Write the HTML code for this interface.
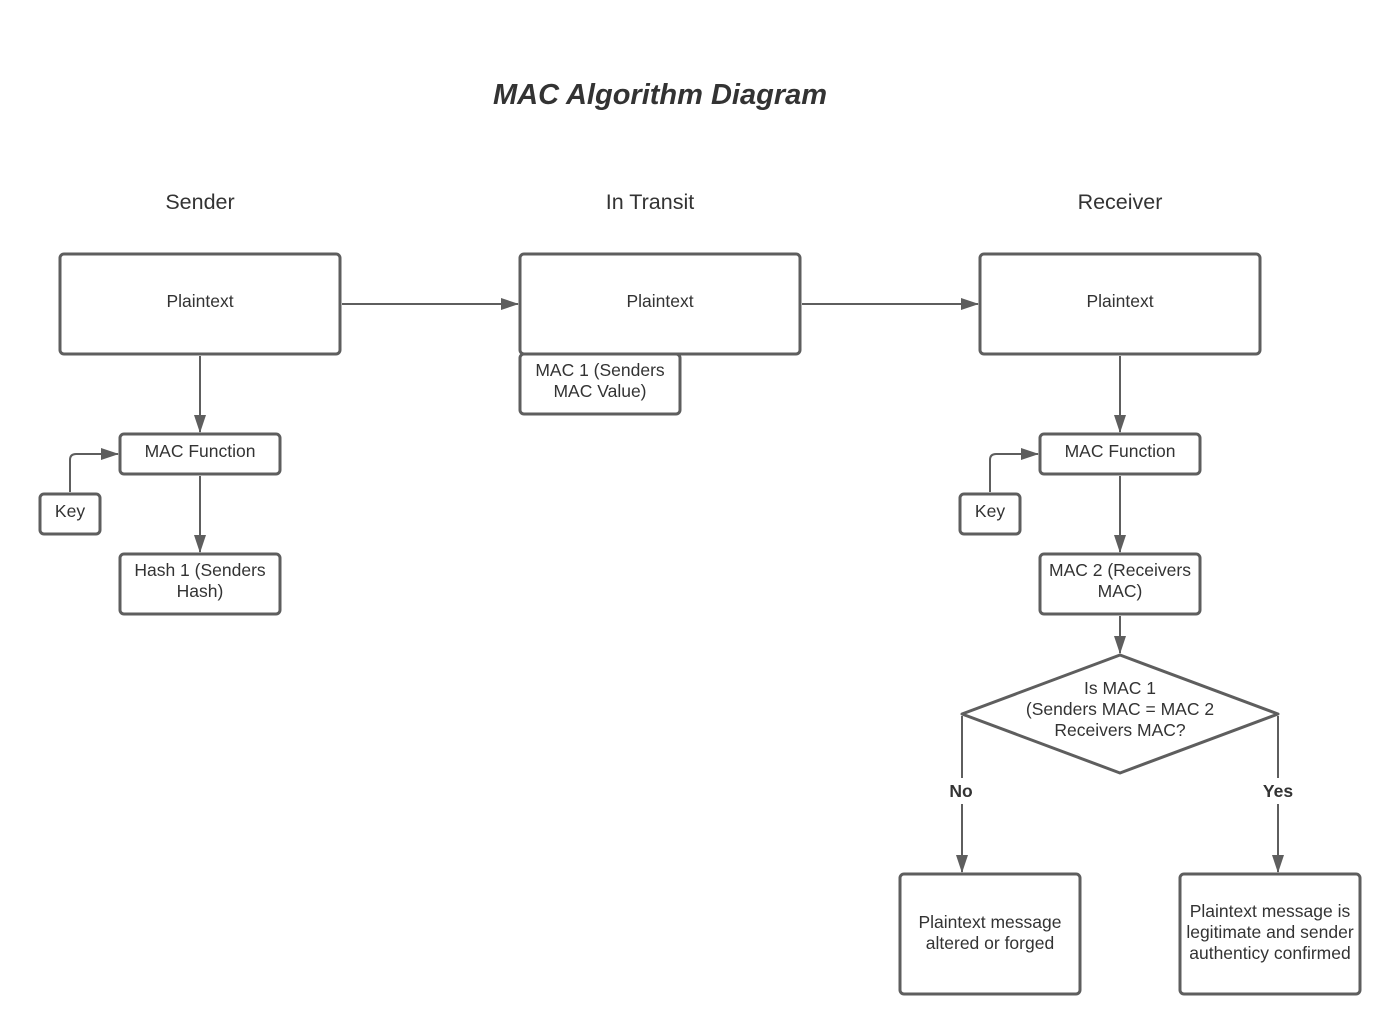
<!DOCTYPE html>
<html><head><meta charset="utf-8"><style>
html,body{margin:0;padding:0;background:#fff;}
svg{display:block;}
text{font-family:"Liberation Sans",sans-serif;fill:#333;}
</style></head><body>
<svg width="1400" height="1034" viewBox="0 0 1400 1034" xmlns="http://www.w3.org/2000/svg">
<defs>
<marker id="b" markerWidth="18" markerHeight="12" refX="17" refY="6" orient="auto" markerUnits="userSpaceOnUse" viewBox="0 0 18 12">
<path d="M0,0 L18,6 L0,12 z" fill="#5e5e5e"/>
</marker>
</defs>
<text x="660" y="104" font-size="29" font-weight="bold" font-style="italic" text-anchor="middle">MAC Algorithm Diagram</text>
<text x="200" y="209" font-size="21.5" text-anchor="middle">Sender</text>
<text x="650" y="209" font-size="21.5" text-anchor="middle">In Transit</text>
<text x="1120" y="209" font-size="21.5" text-anchor="middle">Receiver</text>
<g fill="none" stroke="#5e5e5e" stroke-width="3">
<rect x="60" y="254" width="280" height="100" rx="4"/>
<rect x="520" y="254" width="280" height="100" rx="4"/>
<rect x="980" y="254" width="280" height="100" rx="4"/>
<rect x="520" y="354" width="160" height="60" rx="4"/>
<rect x="120" y="434" width="160" height="40" rx="4"/>
<rect x="40" y="494" width="60" height="40" rx="4"/>
<rect x="120" y="554" width="160" height="60" rx="4"/>
<rect x="1040" y="434" width="160" height="40" rx="4"/>
<rect x="960" y="494" width="60" height="40" rx="4"/>
<rect x="1040" y="554" width="160" height="60" rx="4"/>
<path d="M1120,655 L1278,714 L1120,773 L962,714 Z" stroke-linejoin="round"/>
<rect x="900" y="874" width="180" height="120" rx="4"/>
<rect x="1180" y="874" width="180" height="120" rx="4"/>
</g>
<g fill="none" stroke="#5e5e5e" stroke-width="2">
<line x1="342" y1="304" x2="518" y2="304" marker-end="url(#b)"/>
<line x1="802" y1="304" x2="978" y2="304" marker-end="url(#b)"/>
<line x1="200" y1="356" x2="200" y2="432" marker-end="url(#b)"/>
<line x1="200" y1="476" x2="200" y2="552" marker-end="url(#b)"/>
<line x1="1120" y1="356" x2="1120" y2="432" marker-end="url(#b)"/>
<line x1="1120" y1="476" x2="1120" y2="552" marker-end="url(#b)"/>
<line x1="1120" y1="616" x2="1120" y2="653" marker-end="url(#b)"/>
<path d="M70,492 L70,460 Q70,454 76,454 L118,454" marker-end="url(#b)"/>
<path d="M990,492 L990,460 Q990,454 996,454 L1038,454" marker-end="url(#b)"/>
<line x1="962" y1="716" x2="962" y2="778"/>
<line x1="962" y1="804" x2="962" y2="872" marker-end="url(#b)"/>
<line x1="1278" y1="716" x2="1278" y2="778"/>
<line x1="1278" y1="804" x2="1278" y2="872" marker-end="url(#b)"/>
</g>
<g font-size="17.5" text-anchor="middle">
<text x="200" y="307">Plaintext</text>
<text x="660" y="307">Plaintext</text>
<text x="1120" y="307">Plaintext</text>
<text x="600" y="376">MAC 1 (Senders</text>
<text x="600" y="397">MAC Value)</text>
<text x="200" y="457">MAC Function</text>
<text x="70" y="517">Key</text>
<text x="200" y="576">Hash 1 (Senders</text>
<text x="200" y="597">Hash)</text>
<text x="1120" y="457">MAC Function</text>
<text x="990" y="517">Key</text>
<text x="1120" y="576">MAC 2 (Receivers</text>
<text x="1120" y="597">MAC)</text>
<text x="1120" y="694">Is MAC 1</text>
<text x="1120" y="715">(Senders MAC = MAC 2</text>
<text x="1120" y="736">Receivers MAC?</text>
<text x="961" y="797" font-weight="bold">No</text>
<text x="1278" y="797" font-weight="bold">Yes</text>
<text x="990" y="928">Plaintext message</text>
<text x="990" y="949">altered or forged</text>
<text x="1270" y="917">Plaintext message is</text>
<text x="1270" y="938">legitimate and sender</text>
<text x="1270" y="959">authenticy confirmed</text>
</g>
</svg>
</body></html>
